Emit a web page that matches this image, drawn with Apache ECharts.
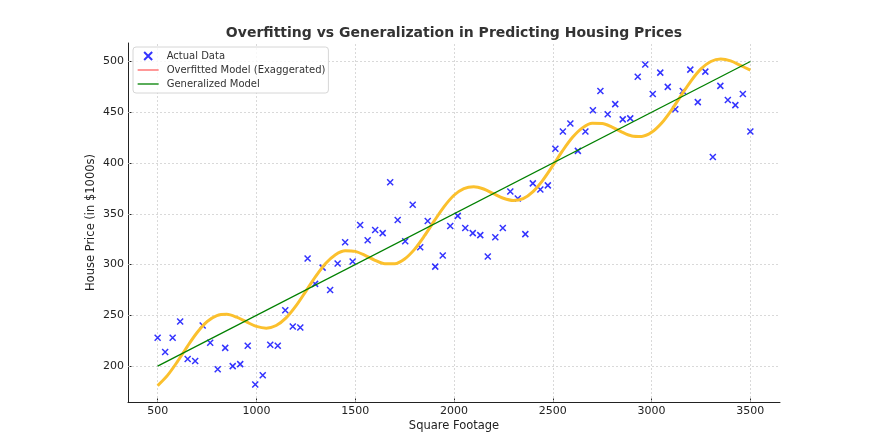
<!DOCTYPE html>
<html>
<head>
<meta charset="utf-8">
<script src="https://cdn.jsdelivr.net/npm/echarts@6/dist/echarts.min.js"></script>
<style>
html, body { margin: 0; padding: 0; background: #fff; }
#chart { width: 870px; height: 437px; }
</style>
</head>
<body>
<div id="chart"></div>
<script>
// 数据
var sqft = [500, 538, 576, 614, 652, 690, 728, 766, 804, 842,
    880, 918, 956, 994, 1032, 1070, 1108, 1146, 1184, 1222,
    1259, 1297, 1335, 1373, 1411, 1449, 1487, 1525, 1563, 1601,
    1639, 1677, 1715, 1753, 1791, 1829, 1867, 1905, 1943, 1981,
    2019, 2057, 2095, 2133, 2171, 2209, 2247, 2285, 2323, 2361,
    2399, 2437, 2475, 2513, 2551, 2589, 2627, 2665, 2703, 2741,
    2778, 2816, 2854, 2892, 2930, 2968, 3006, 3044, 3082, 3120,
    3158, 3196, 3234, 3272, 3310, 3348, 3386, 3424, 3462, 3500];
var price = [228, 214, 228, 244, 207, 205, 240, 223, 197, 218,
    200, 202, 220, 182, 191, 221, 220, 255, 239, 238,
    306, 281, 297, 275, 301, 322, 303, 339, 324, 334,
    331, 381, 344, 323, 359, 317, 343, 298, 309, 338,
    348, 336, 331, 329, 308, 327, 336, 372, 365, 330,
    380, 374, 378, 414, 431, 439, 412, 431, 452, 471,
    448, 458, 443, 444, 485, 497, 468, 489, 475, 453,
    471, 492, 460, 490, 406, 476, 462, 457, 468, 431];

// 过拟合曲线（从图上读取，每50一个点）
var fitX = [500, 550, 600, 650, 700, 750, 800, 850, 900, 950,
    1000, 1050, 1100, 1150, 1200, 1250, 1300, 1350, 1400, 1450,
    1500, 1550, 1600, 1650, 1700, 1750, 1800, 1850, 1900, 1950,
    2000, 2050, 2100, 2150, 2200, 2250, 2300, 2350, 2400, 2450,
    2500, 2550, 2600, 2650, 2700, 2750, 2800, 2850, 2900, 2950,
    3000, 3050, 3100, 3150, 3200, 3250, 3300, 3350, 3400, 3450, 3500];
var fitY = [180.8, 190.9, 204.4, 219.3, 233.1, 243.8, 249.8, 251.0, 248.2, 243.5,
    239.1, 237.4, 240.0, 247.5, 259.3, 273.7, 288.4, 301.1, 309.8, 313.7,
    313.0, 309.1, 304.2, 300.8, 300.8, 305.5, 315.0, 328.2, 343.0, 357.1,
    368.3, 374.9, 376.7, 374.4, 369.8, 365.3, 363.1, 365.0, 371.9, 383.2,
    397.4, 412.2, 425.3, 434.6, 439.1, 439.0, 435.4, 430.5, 426.7, 426.2,
    430.2, 439.1, 451.9, 466.7, 481.0, 492.7, 500.0, 502.4, 500.6, 496.1, 491.4];

// 泛化直线
var genX = [500, 3500];
var genY = [200, 500];

// 刻度
var xTicks = [500, 1000, 1500, 2000, 2500, 3000, 3500];
var yTicks = [200, 250, 300, 350, 400, 450, 500];

var FONT = 'DejaVu Sans';
var crossPath = 'path://M0,0L10,10M10,0L0,10';

function pairs(xs, ys) {
    return xs.map(function (x, i) { return [x, ys[i]]; });
}

function plain(v) {
    return String(v);
}

var gridLines = xTicks.map(function (v) { return {xAxis: v}; })
    .concat(yTicks.map(function (v) { return {yAxis: v}; }));

var myChart = echarts.init(document.getElementById('chart'));

var noDot = {color: 'rgba(0,0,0,0)', opacity: 0, borderWidth: 0};

var option = {
    animation: false,
    backgroundColor: '#fff',
    title: {
        text: 'Overfitting vs Generalization in Predicting Housing Prices',
        left: 454,
        top: 26,
        padding: 0,
        textAlign: 'center',
        textStyle: {fontFamily: FONT, fontSize: 14, fontWeight: 'bold', color: '#333'}
    },
    legend: {
        orient: 'vertical',
        left: 133,
        top: 47,
        padding: [4, 3, 4, 4],
        itemWidth: 21,
        itemHeight: 8,
        itemGap: 4,
        backgroundColor: 'rgba(255,255,255,0.8)',
        borderColor: '#d6d6d6',
        borderWidth: 1,
        borderRadius: 3,
        textStyle: {fontFamily: FONT, fontSize: 10, color: '#333', padding: [0, 0, 0, 3]},
        data: [
            {name: 'Actual Data'},
            {name: 'Overfitted Model (Exaggerated)', itemStyle: noDot, lineStyle: {color: '#ff6060', width: 1.3}},
            {name: 'Generalized Model', itemStyle: noDot, lineStyle: {width: 1.3}}
        ]
    },
    grid: {left: 128, right: 90, top: 43, bottom: 35},
    xAxis: {
        type: 'value',
        min: 350,
        max: 3650,
        name: 'Square Footage',
        nameLocation: 'middle',
        nameGap: 18,
        nameMoveOverlap: false,
        nameTextStyle: {fontFamily: FONT, fontSize: 11.5, color: '#222'},
        axisLine: {lineStyle: {color: '#222', width: 1}},
        axisTick: {inside: true, length: 3.5, customValues: xTicks, lineStyle: {color: '#222'}},
        axisLabel: {customValues: xTicks, formatter: plain, margin: 4, fontFamily: FONT, fontSize: 11, color: '#222'},
        splitLine: {show: false}
    },
    yAxis: {
        type: 'value',
        min: 164.7,
        max: 518.2,
        name: 'House Price (in $1000s)',
        nameLocation: 'middle',
        nameGap: 31,
        nameMoveOverlap: false,
        nameTextStyle: {fontFamily: FONT, fontSize: 11.5, color: '#222'},
        axisLine: {show: true, lineStyle: {color: '#222', width: 1}},
        axisTick: {show: true, inside: true, length: 3.5, customValues: yTicks, lineStyle: {color: '#222'}},
        axisLabel: {customValues: yTicks, formatter: plain, margin: 4, fontFamily: FONT, fontSize: 11, color: '#222'},
        splitLine: {show: false}
    },
    series: [
        {
            name: 'grid',
            type: 'line',
            data: [],
            silent: true,
            markLine: {
                silent: true,
                z: 1,
                symbol: ['none', 'none'],
                label: {show: false},
                lineStyle: {color: '#d0d0d0', width: 0.8, type: [2, 2]},
                emphasis: {disabled: true},
                data: gridLines
            }
        },
        {
            name: 'Actual Data',
            type: 'scatter',
            symbol: crossPath,
            symbolSize: 6,
            itemStyle: {color: '#0000ff', borderColor: '#0000ff', borderWidth: 1.5},
            data: pairs(sqft, price),
            z: 3
        },
        {
            name: 'Overfitted Model (Exaggerated)',
            type: 'line',
            smooth: 0.3,
            symbol: 'none',
            lineStyle: {color: '#fbc02d', width: 3},
            itemStyle: {color: '#fbc02d'},
            data: pairs(fitX, fitY),
            z: 4
        },
        {
            name: 'Generalized Model',
            type: 'line',
            symbol: 'none',
            lineStyle: {color: '#008000', width: 1.3},
            itemStyle: {color: '#008000'},
            data: pairs(genX, genY),
            z: 5
        }
    ]
};

myChart.setOption(option);
</script>
</body>
</html>
